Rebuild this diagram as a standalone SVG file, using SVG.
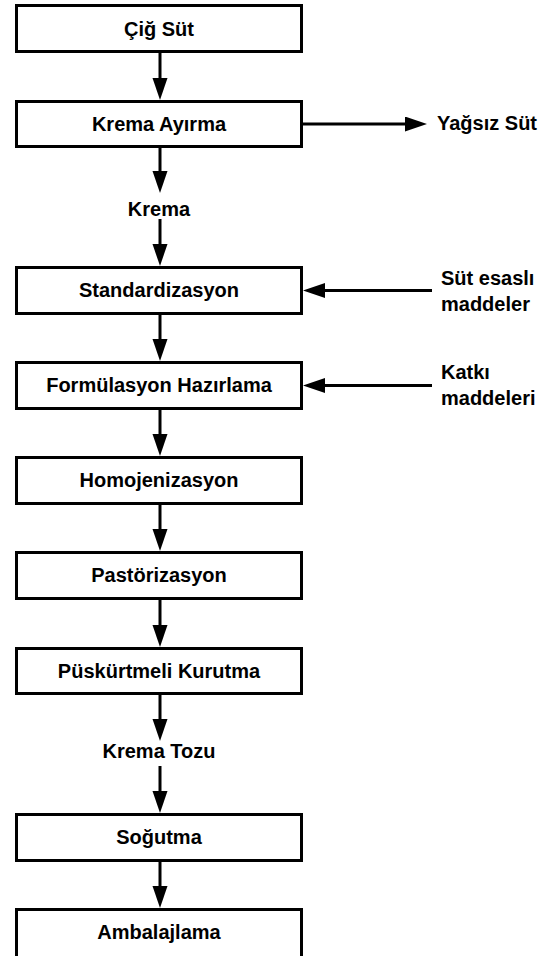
<svg xmlns="http://www.w3.org/2000/svg" width="547" height="956" viewBox="0 0 547 956">
<defs>
<style>
.box{fill:#fff;stroke:#000;stroke-width:3}
.t{font-family:"Liberation Sans",Arial,sans-serif;font-weight:bold;font-size:20px;fill:#000}
.c{text-anchor:middle}
.ln{stroke:#000;stroke-width:3;fill:none;marker-end:url(#ah)}
</style>
<marker id="ah" markerUnits="userSpaceOnUse" markerWidth="24" markerHeight="16" refX="4" refY="7.5" orient="auto">
<path d="M0,0 L22,7.5 L0,15 Z" fill="#000"/>
</marker>
</defs>
<rect width="547" height="956" fill="#fff"/>
<g id="connectors">
<line class="ln" x1="160" y1="53" x2="160" y2="82"/>
<line class="ln" x1="160" y1="148" x2="160" y2="175"/>
<line class="ln" x1="160" y1="219" x2="160" y2="248"/>
<line class="ln" x1="160" y1="315" x2="160" y2="343"/>
<line class="ln" x1="160" y1="410" x2="160" y2="438"/>
<line class="ln" x1="160" y1="505" x2="160" y2="533"/>
<line class="ln" x1="160" y1="600" x2="160" y2="629"/>
<line class="ln" x1="160" y1="695" x2="160" y2="723"/>
<line class="ln" x1="160" y1="766" x2="160" y2="795"/>
<line class="ln" x1="160" y1="862" x2="160" y2="890"/>
<line class="ln" x1="303" y1="124" x2="409" y2="124"/>
<line class="ln" x1="432" y1="290.5" x2="321" y2="290.5"/>
<line class="ln" x1="432" y1="385.5" x2="321" y2="385.5"/>
</g>
<g id="n1"><rect class="box" x="16.5" y="5.5" width="285" height="46"/><text class="t c" x="159" y="35.5">Çiğ Süt</text></g>
<g id="n2"><rect class="box" x="16.5" y="101.5" width="285" height="45"/><text class="t c" x="159" y="131">Krema Ayırma</text></g>
<g id="l1"><text class="t c" x="159" y="216">Krema</text></g>
<g id="l2"><text class="t" x="437" y="130">Yağsız Süt</text></g>
<g id="n3"><rect class="box" x="16.5" y="267.5" width="285" height="46"/><text class="t c" x="159" y="297">Standardizasyon</text></g>
<g id="l3"><text class="t" x="441" y="285">Süt esaslı</text><text class="t" x="441" y="311">maddeler</text></g>
<g id="n4"><rect class="box" x="16.5" y="362.5" width="285" height="46"/><text class="t c" x="159" y="392">Formülasyon Hazırlama</text></g>
<g id="l4"><text class="t" x="441" y="379">Katkı</text><text class="t" x="441" y="405">maddeleri</text></g>
<g id="n5"><rect class="box" x="16.5" y="457.5" width="285" height="46"/><text class="t c" x="159" y="487">Homojenizasyon</text></g>
<g id="n6"><rect class="box" x="16.5" y="552.5" width="285" height="46"/><text class="t c" x="159" y="582">Pastörizasyon</text></g>
<g id="n7"><rect class="box" x="16.5" y="648.5" width="285" height="45"/><text class="t c" x="159" y="678">Püskürtmeli Kurutma</text></g>
<g id="l5"><text class="t c" x="159" y="758">Krema Tozu</text></g>
<g id="n8"><rect class="box" x="16.5" y="814.5" width="285" height="46"/><text class="t c" x="159" y="844">Soğutma</text></g>
<g id="n9"><rect class="box" x="16.5" y="909.5" width="285" height="50"/><text class="t c" x="159" y="939">Ambalajlama</text></g>
</svg>
